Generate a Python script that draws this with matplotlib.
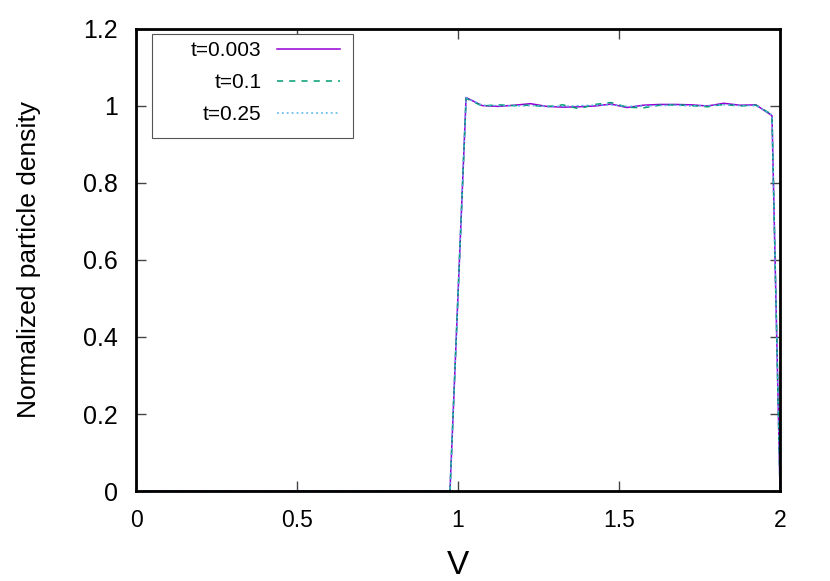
import numpy as np
import matplotlib
matplotlib.use('Agg')
import matplotlib.pyplot as plt
from matplotlib.patches import Rectangle

plt.rcParams['font.family'] = ['Liberation Sans', 'DejaVu Sans']

# 网格点（单元中心），最后补一个端点
v = [0.025, 0.075, 0.125, 0.175, 0.225, 0.275, 0.325, 0.375, 0.425, 0.475,
     0.525, 0.575, 0.625, 0.675, 0.725, 0.775, 0.825, 0.875, 0.925, 0.975,
     1.025, 1.075, 1.125, 1.175, 1.225, 1.275, 1.325, 1.375, 1.425, 1.475,
     1.525, 1.575, 1.625, 1.675, 1.725, 1.775, 1.825, 1.875, 1.925, 1.975, 2.0]

zeros = [0.0] * 20
rho_t0003 = zeros + [1.022, 1.001, 0.999, 1.002, 1.006, 0.999, 0.997, 0.998, 1.000, 1.005,
                     0.996, 1.002, 1.004, 1.004, 1.003, 1.000, 1.007, 1.002, 1.003, 0.975, 0.0]
rho_t01 = zeros + [1.020, 1.000, 1.003, 1.001, 1.002, 0.998, 1.003, 0.993, 1.004, 1.009,
                   0.997, 0.995, 1.002, 1.003, 1.001, 0.998, 1.004, 1.000, 1.002, 0.978, 0.0]
rho_t025 = zeros + [1.021, 1.002, 1.001, 1.000, 1.001, 1.000, 0.999, 1.001, 1.002, 1.003,
                    0.999, 1.000, 1.001, 1.002, 1.000, 1.001, 1.003, 1.001, 1.001, 0.977, 0.0]

labels = ['t=0.003', 't=0.1', 't=0.25']

fig = plt.figure(figsize=(8.3, 5.81), dpi=100)
ax = fig.add_axes([0.1639, 0.1549, 0.9398 - 0.1639, 0.9501 - 0.1549])

ax.plot(v, rho_t0003, color='#9400D3', lw=1.1, label=labels[0])
ax.plot(v, rho_t01, color='#009E73', lw=1.1, ls=(0, (4, 4)), label=labels[1])
ax.plot(v, rho_t025, color='#56B4E9', lw=1.1, ls=(0, (1.2, 2)), label=labels[2])

ax.set_xlim(0, 2)
ax.set_ylim(0, 1.2)
ax.set_xticks([0, 0.5, 1, 1.5, 2])
ax.set_xticklabels(['0', '0.5', '1', '1.5', '2'])
ax.set_yticks([0, 0.2, 0.4, 0.6, 0.8, 1, 1.2])
ax.set_yticklabels(['0', '0.2', '0.4', '0.6', '0.8', '1', '1.2'])
ax.tick_params(direction='in', length=7, width=1, color='#444444',
               top=True, right=True)
ax.tick_params(axis='y', pad=13, labelsize=18)
ax.tick_params(axis='x', pad=13, labelsize=16.5)
for s in ax.spines.values():
    s.set_linewidth(2)

ax.set_xlabel('V', fontsize=24, labelpad=13)
ax.set_ylabel('Normalized particle density', fontsize=19, labelpad=30)

# 图例框（gnuplot 风格，文字右对齐，左侧留白较多）
ax.add_patch(Rectangle((0.0248, 0.764), 0.312, 0.225, transform=ax.transAxes,
                       facecolor='white', edgecolor='#555555', lw=0.8, zorder=4))
leg = ax.legend(loc='upper right', bbox_to_anchor=(0.316, 0.973), borderaxespad=0,
                markerfirst=False, fontsize=15, frameon=False, handlelength=3.0,
                labelspacing=0.62, borderpad=0, handletextpad=0.75)
leg.set_zorder(5)

plt.savefig('out.png', dpi=100)
